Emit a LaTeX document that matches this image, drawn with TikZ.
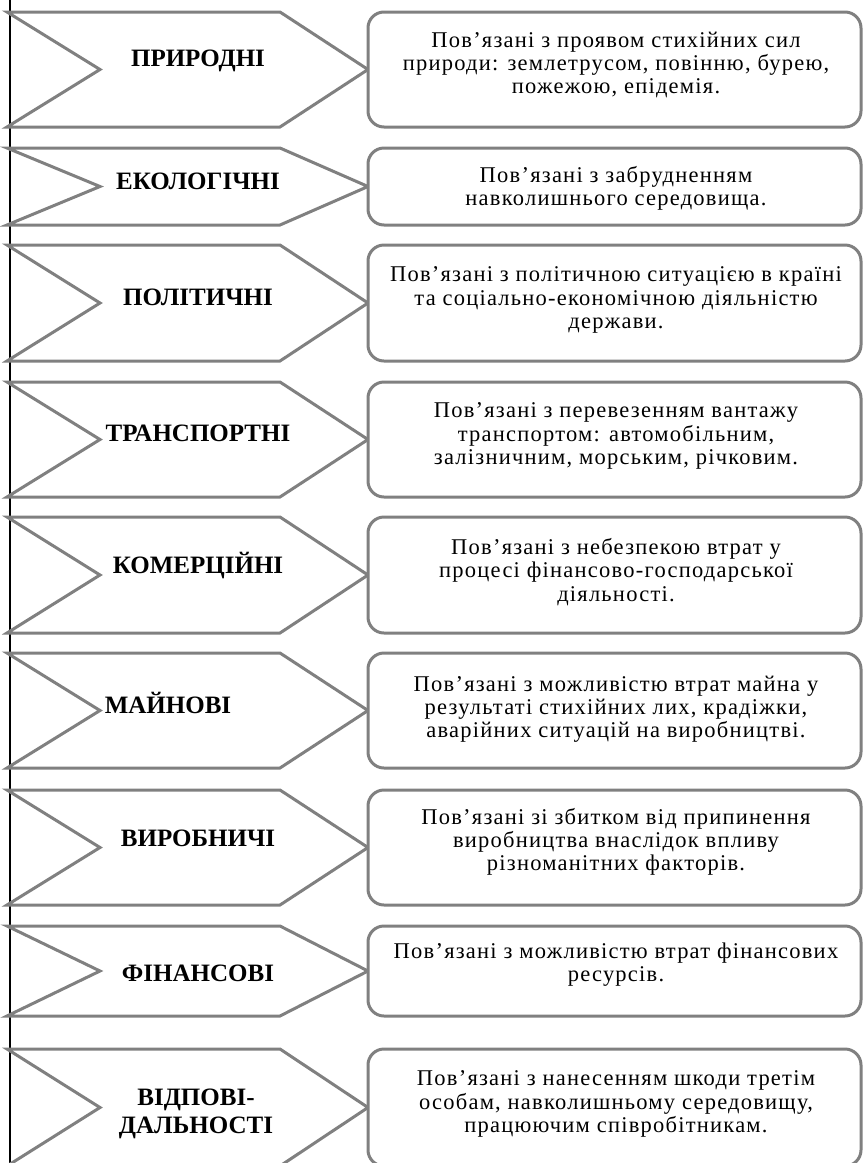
\documentclass[tikz,border=0pt]{standalone}
\usepackage{fontspec}
\newfontfamily\riskfont{Liberation Serif}
\newfontfamily\descfont[LetterSpace=5.5]{Liberation Serif}
\definecolor{edgegray}{RGB}{128,128,128}
\tikzset{
  chev/.style={draw=edgegray, line width=3pt, line join=miter, fill=white},
  descbox/.style={draw=edgegray, line width=3pt, rounded corners=16pt,
    minimum width=493pt, inner sep=0pt, fill=white},
  desctext/.style={align=center, inner sep=0pt,
    font=\descfont\fontsize{22.5}{23.2}\selectfont},
  lab/.style={align=center, inner sep=0pt,
    font=\riskfont\bfseries\fontsize{25}{27.5}\selectfont},
  axis/.style={line width=1.5pt, black},
}
% #1 name, #2 top, #3 bottom, #4 label x, #5 label y, #6 label, #7 text y, #8 text
\newcommand\riskrow[8]{%
  \pgfmathsetmacro\rowmid{(#2+#3)/2}%
  \pgfmathsetmacro\rowht{#3-#2}%
  \draw[chev] (7,#2) -- (280,#2) -- (368,\rowmid) -- (280,#3) -- (7,#3)
    -- (100,\rowmid) -- cycle;
  \node[lab] (#1-lab) at (#4,#5) {#6};
  \node[descbox, minimum height=\rowht pt] (#1-box) at (614.5,\rowmid) {};
  \node[desctext] (#1-txt) at (616,#7) {#8};
}
\begin{document}
\begin{tikzpicture}[x=1pt,y=-1pt]
\useasboundingbox (0,0) rectangle (863,1163);
\clip (0,0) rectangle (863,1163);
\coordinate (axtop) at (10,0);
\coordinate (axbot) at (10,1163);
\draw[axis] (axtop) -- (axbot);

\riskrow{nat}{12}{127}{198}{61}{ПРИРОДНІ}{65}
  {Пов’язані з проявом стихійних сил\\природи: землетрусом, повінню, бурею,\\пожежою, епідемія.}
\riskrow{eco}{148}{225}{198}{181}{ЕКОЛОГІЧНІ}{188}
  {Пов’язані з забрудненням\\навколишнього середовища.}
\riskrow{pol}{245}{361}{198}{297}{ПОЛІТИЧНІ}{300}
  {Пов’язані з політичною ситуацією в країні\\та соціально-економічною діяльністю\\держави.}
\riskrow{tra}{382}{497}{198}{433}{ТРАНСПОРТНІ}{436}
  {Пов’язані з перевезенням вантажу\\транспортом: автомобільним,\\залізничним, морським, річковим.}
\riskrow{com}{517}{633}{198}{566}{КОМЕРЦІЙНІ}{572}
  {Пов’язані з небезпекою втрат у\\процесі фінансово-господарської\\діяльності.}
\riskrow{pro}{653}{768}{168}{703}{МАЙНОВІ}{709}
  {Пов’язані з можливістю втрат майна у\\результаті стихійних лих, крадіжки,\\аварійних ситуацій на виробництві.}
\riskrow{ind}{790}{905}{198}{838}{ВИРОБНИЧІ}{842}
  {Пов’язані зі збитком від припинення\\виробництва внаслідок впливу\\різноманітних факторів.}
\riskrow{fin}{926}{1016}{198}{973}{ФІНАНСОВІ}{965}
  {Пов’язані з можливістю втрат фінансових\\ресурсів.}
\riskrow{lia}{1049}{1166}{196}{1114}{ВІДПОВІ-\\ДАЛЬНОСТІ}{1104}
  {Пов’язані з нанесенням шкоди третім\\особам, навколишньому середовищу,\\працюючим співробітникам.}
\end{tikzpicture}
\end{document}
